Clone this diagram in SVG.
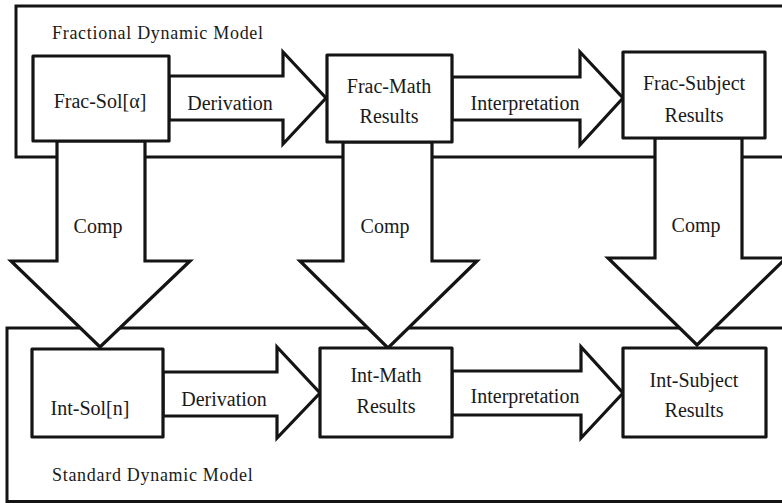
<svg xmlns="http://www.w3.org/2000/svg" width="782" height="503" viewBox="0 0 782 503">
<style>
.frame{fill:none;stroke:#141414;stroke-width:3}
.box{fill:#fff;stroke:#141414;stroke-width:3.2;stroke-linejoin:round}
.arr{fill:#fff;stroke:#141414;stroke-width:3.2;stroke-linejoin:miter}
.lbl{font-family:"Liberation Serif","Times New Roman",serif;font-size:20px;fill:#1a1a1a;text-anchor:middle}
.cap{font-family:"Liberation Serif","Times New Roman",serif;font-size:18px;fill:#1a1a1a;letter-spacing:0.7px}
</style>
<rect width="782" height="503" fill="#fff"/>
<g id="frames">
<rect class="frame" x="16" y="6" width="800" height="151"/>
<rect class="frame" x="7" y="328" width="800" height="173.5"/>
<text class="cap" x="52" y="39">Fractional Dynamic Model</text>
<text class="cap" x="52" y="481">Standard Dynamic Model</text>
</g>
<g id="connectors">
<path class="arr" d="M169,76 H283 V52 L326,98 L283,144 V120 H169 Z"/>
<path class="arr" d="M452,77 H580 V52 L623,98 L580,145 V120 H452 Z"/>
<path class="arr" d="M163,372 H277 V347 L320,393 L277,438 V416 H163 Z"/>
<path class="arr" d="M452,371 H581 V347 L623,393 L581,438 V415 H452 Z"/>
<path class="arr" d="M57,141 V261 H11 L100,347 L190,261 H145 V141 Z"/>
<path class="arr" d="M343,142 V261 H300 L388,348 L477,261 H432 V142 Z"/>
<path class="arr" d="M655,138 V258 H608 L697,345 L786,258 H742 V138 Z"/>
<text class="lbl" x="230" y="110">Derivation</text>
<text class="lbl" x="525" y="110">Interpretation</text>
<text class="lbl" x="224" y="406">Derivation</text>
<text class="lbl" x="525" y="403">Interpretation</text>
<text class="lbl" x="98" y="233">Comp</text>
<text class="lbl" x="385" y="233">Comp</text>
<text class="lbl" x="696" y="232">Comp</text>
</g>
<g id="frac-sol">
<rect class="box" x="33" y="56" width="136" height="85"/>
<text class="lbl" x="100" y="108">Frac-Sol[α]</text>
</g>
<g id="frac-math">
<rect class="box" x="327" y="55" width="125" height="87"/>
<text class="lbl" x="389" y="93">Frac-Math</text>
<text class="lbl" x="389" y="123">Results</text>
</g>
<g id="frac-subject">
<rect class="box" x="623" y="52" width="142" height="86"/>
<text class="lbl" x="694" y="90">Frac-Subject</text>
<text class="lbl" x="694" y="122">Results</text>
</g>
<g id="int-sol">
<rect class="box" x="32" y="349" width="131" height="88"/>
<text class="lbl" x="90" y="415">Int-Sol[n]</text>
</g>
<g id="int-math">
<rect class="box" x="320" y="348" width="132" height="89"/>
<text class="lbl" x="386" y="382">Int-Math</text>
<text class="lbl" x="386" y="413">Results</text>
</g>
<g id="int-subject">
<rect class="box" x="623" y="348" width="143" height="89"/>
<text class="lbl" x="694" y="387">Int-Subject</text>
<text class="lbl" x="694" y="417">Results</text>
</g>
</svg>
